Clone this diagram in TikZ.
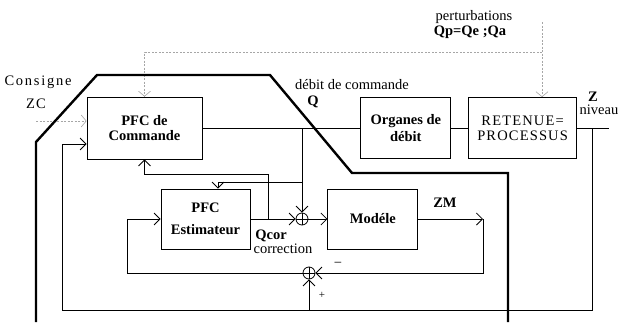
\documentclass[tikz,border=0pt]{standalone}
\usepackage{fontspec}
\setmainfont{Liberation Serif}
\usetikzlibrary{positioning,arrows.meta,calc}

\begin{document}
\begin{tikzpicture}[x=1pt,y=-1pt,
  blk/.style={draw,line width=0.8pt,align=center,inner sep=2pt,
              font=\fontsize{14.5}{15}\selectfont\bfseries},
  sumj/.style={circle,draw,line width=0.8pt,minimum size=12pt,inner sep=0pt,
               path picture={\draw[line width=0.8pt]
                 (path picture bounding box.north) -- (path picture bounding box.south)
                 (path picture bounding box.west) -- (path picture bounding box.east);}},
  lbl/.style={inner sep=0pt,font=\fontsize{14.5}{15}\selectfont},
  ln/.style={line width=0.8pt},
  arr/.style={ln,-{Straight Barb[length=6pt,width=12pt]}},
  dsh/.style={gray!70,line width=0.6pt,dash pattern=on 2pt off 1.5pt,
              -{Straight Barb[length=5pt,width=12pt]}}]
\useasboundingbox (0,0) rectangle (622,322);
% blocs
\node[blk,minimum width=115pt,minimum height=62pt] (cmd) at (144.5,128) {PFC de\\Commande};
\node[blk,minimum width=90pt,minimum height=61pt,right=158pt of cmd] (org) {Organes de\\[2pt]débit};
\node[blk,font=\fontsize{14.5}{15}\selectfont\addfontfeatures{LetterSpace=8},
      minimum width=108pt,minimum height=61pt,right=17pt of org] (ret) {RETENUE=\\PROCESSUS};
\node[blk,minimum width=89pt,minimum height=60pt] (est) at (205.5,219) {PFC\\[7pt]Estimateur};
\node[blk,minimum width=90pt,minimum height=60pt,right=77pt of est] (mod) {Modéle};
\node[sumj] (s1) at (302,219) {};
\node[sumj] (s2) at (309,273) {};
% points de branchement
\coordinate (zout) at (609,128);
\coordinate (ztap) at (592,128);
\coordinate (bot) at (62,310);
\coordinate (qtap) at (s1 |- cmd.east);
\coordinate (qest) at (302,182);
\coordinate (qcor) at (268,219);
\coordinate (zmend) at (483,219);
\coordinate (zc) at (36,121);
\coordinate (pert) at (542,22);
\coordinate (pbr) at (542,52);
% chaine directe
\draw[ln] (cmd) -- (org);
\draw[ln] (org) -- (ret);
\draw[ln] (ret) -- (zout);
\draw[arr] (ztap) |- (bot) |- ([yshift=-16pt]cmd.west);
\draw[arr] (s2 |- bot) -- (s2);
\draw[arr] (qtap) -- (s1);
\draw[arr] (qest) -| ([xshift=12.5pt]est.north);
\draw[arr] (est) -- (s1);
\draw[arr] (qcor) |- ([yshift=-15pt]cmd.south) -- (cmd.south);
\draw[arr] (s1) -- (mod);
\draw[arr] (mod) -- (zmend);
\draw[arr] (zmend) |- (s2);
\draw[arr] (s2) -| ([xshift=-33pt]est.west) -- (est.west);
% entrees
\draw[dsh] (zc) -- ([yshift=7pt]cmd.west);
\draw[dsh] (pert) -- (pert |- ret.north);
\draw[dsh] (pbr) -| (cmd.north);
% frontiere
\draw[line width=2.4pt] (36,322) -- (36,142) -- (97,75) -- (270,75) -- (352,173)
  -- (508,173) -- (508,322);
% textes
\node[lbl,font=\fontsize{14.5}{15}\selectfont\addfontfeatures{LetterSpace=12}] (tcons) at (38,82) {Consigne};
\node[lbl,font=\fontsize{14.5}{15}\selectfont\addfontfeatures{LetterSpace=8}] (tzc) at (36,104) {ZC};
\node[lbl] (tpert) at (474,17) {perturbations};
\node[lbl,font=\fontsize{14.5}{15}\selectfont\bfseries] (tqp) at (470,32) {Qp=Qe ;Qa};
\node[lbl] (tdeb) at (352,85) {débit de commande};
\node[lbl,font=\fontsize{14.5}{15}\selectfont\bfseries] (tq) at (313,102) {Q};
\node[lbl,font=\fontsize{14.5}{15}\selectfont\bfseries] (tz) at (593,97) {Z};
\node[lbl] (tniv) at (599,110) {niveau};
\node[lbl,font=\fontsize{14.5}{15}\selectfont\bfseries] (tzm) at (445,203) {ZM};
\node[lbl,font=\fontsize{14.5}{15}\selectfont\bfseries] (tqcor) at (271,236) {Qcor};
\node[lbl] (tcorr) at (283,249) {correction};
\node[lbl] (tmin) at (338,265) {−};
\node[lbl,font=\fontsize{11}{12}\selectfont] (tplus) at (322,295) {+};
\end{tikzpicture}
\end{document}
